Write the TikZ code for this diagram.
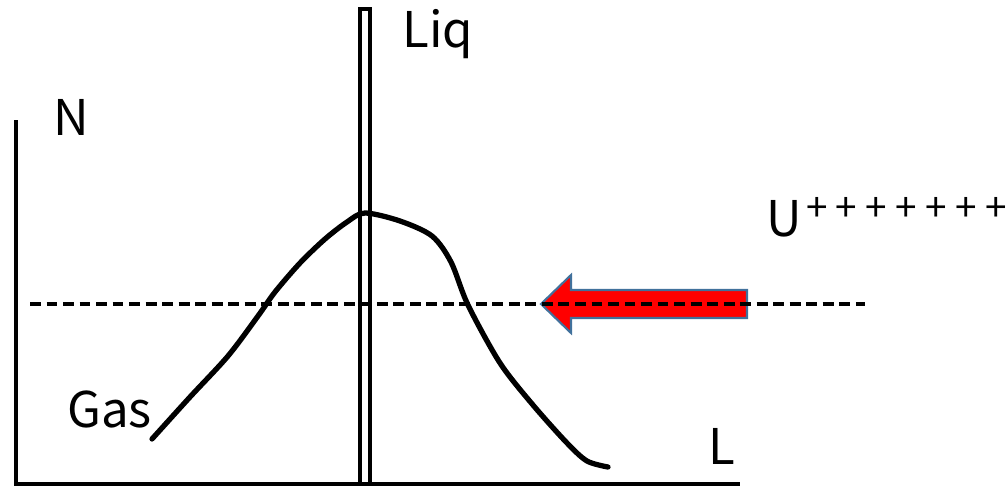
\documentclass[tikz,border=0pt]{standalone}
\usepackage{fontspec}
\setmainfont{Noto Sans CJK JP}
\usepackage{tikz}
\usetikzlibrary{arrows.meta, positioning, calc}
\usepackage{xcolor}
\definecolor{arrowedge}{RGB}{65,113,156}

\tikzset{
  lbl/.style={anchor=base west, inner sep=0pt, font=\fontsize{28}{30}\selectfont},
  axis/.style={line width=2pt},
  level/.style={line width=2pt, dash pattern=on 6.2pt off 3.2pt},
}
\newcommand{\plusbox}{\makebox[17pt]{+}}

\begin{document}
\begin{tikzpicture}[x=0.02cm, y=-0.02cm]
  \useasboundingbox (0,0) rectangle (1007,487);

  % axes
  \coordinate (top) at (16,120);
  \coordinate (orig) at (16,484);
  \coordinate (xend) at (740,484);
  \draw[axis] (top) -- (orig) -- (xend);

  % interface
  \draw[line width=2.2pt] (360,9) rectangle (370,484);

  % density profile
  \draw[line width=3pt, line cap=round] plot[smooth, tension=0.5] coordinates {
    (152,439) (190,397) (228,356) (258,316) (275,292) (300,263) (325,239)
    (347,222) (365,213) (400,221) (432,236) (451,262) (468,305)
    (500,363) (533,405) (567,443) (587,461) (608,467)};

  % red arrow
  \fill[red, draw=arrowedge, line width=1.2pt]
    (541,304) -- (571,275) -- (571,290) -- (747,290) -- (747,318)
    -- (571,318) -- (571,333) -- cycle;

  \coordinate (lvlA) at (30,304);
  \coordinate (lvlB) at (865,304);
  \draw[level] (lvlA) -- (lvlB);

  \node[lbl] (liq) at (402,47) {Liq};
  \node[lbl] (n) at (53,135) {N};
  \node[lbl] (gas) at (67,427) {Gas};
  \node[lbl] (l) at (708,464) {L};
  \node[lbl] (u) at (766,236)
    {U\raisebox{0.3em}{\fontsize{22}{24}\selectfont\plusbox\plusbox\plusbox\plusbox\plusbox\plusbox\plusbox}};
\end{tikzpicture}
\end{document}
